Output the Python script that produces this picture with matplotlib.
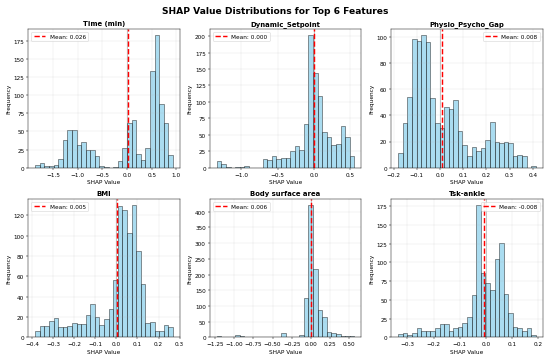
import numpy as np
import matplotlib
matplotlib.use("Agg")
from matplotlib import pyplot as plt

features = ["Time (min)", "Dynamic_Setpoint", "Physio_Psycho_Gap",
            "BMI", "Body surface area", "Tsk-ankle"]
means = [0.026, 0.000, 0.008, 0.005, 0.006, -0.008]
legend_loc = ["upper left", "upper left", "upper right",
              "upper left", "upper left", "upper right"]

# histogram range (min, max) and bin counts, 30 bins each
ranges = [(-1.86, 0.93), (-1.34, 0.556), (-0.18, 0.413),
          (-0.385, 0.268), (-1.23, 0.57), (-0.335, 0.19)]

counts_time = [4, 6, 2, 3, 4, 12, 38, 52, 52, 31, 36, 24, 24, 16, 3,
               1, 0, 1, 9, 27, 62, 66, 19, 11, 27, 133, 182, 88, 62, 18]
counts_setpoint = [10, 6, 1, 0, 1, 1, 2, 0, 0, 0, 13, 12, 18, 13, 14,
                   14, 26, 33, 27, 66, 201, 144, 109, 55, 47, 34, 36, 64, 47, 18]
counts_gap = [11, 34, 54, 98, 97, 101, 96, 53, 34, 30, 46, 45, 52, 28, 17,
              9, 16, 13, 15, 21, 35, 20, 19, 20, 19, 9, 10, 9, 0, 1]
counts_bmi = [6, 11, 11, 16, 19, 10, 10, 11, 14, 13, 13, 22, 33, 20, 12,
              18, 28, 57, 129, 125, 103, 130, 85, 53, 14, 15, 6, 6, 12, 10]
counts_bsa = [6, 3, 3, 3, 8, 5, 0, 0, 0, 0, 0, 0, 0, 0, 15,
              2, 0, 0, 8, 125, 420, 217, 88, 64, 17, 13, 11, 6, 5, 5]
counts_ankle = [5, 6, 3, 6, 12, 9, 8, 9, 12, 18, 18, 9, 13, 14, 19,
                27, 57, 176, 86, 72, 63, 104, 126, 58, 32, 14, 12, 9, 12, 3]

all_counts = [counts_time, counts_setpoint, counts_gap,
              counts_bmi, counts_bsa, counts_ankle]

fig, axes = plt.subplots(2, 3, figsize=(13.3, 8.73), dpi=41.35)
axes = axes.flatten()

for i, ax in enumerate(axes):
    lo, hi = ranges[i]
    edges = np.linspace(lo, hi, len(all_counts[i]) + 1)
    centers = (edges[:-1] + edges[1:]) / 2
    ax.hist(centers, bins=edges, weights=all_counts[i], alpha=0.7,
            color="skyblue", edgecolor="black", linewidth=1)
    ax.axvline(0, color="black", linestyle="-", alpha=0.3, linewidth=1.2)
    ax.axvline(means[i], color="red", linestyle="--", linewidth=2.5,
               label=f"Mean: {means[i]:.3f}")
    ax.set_title(features[i], fontsize=12, fontweight="bold")
    ax.set_xlabel("SHAP Value")
    ax.set_ylabel("Frequency")
    ax.legend(loc=legend_loc[i])
    ax.grid(True, alpha=0.3)

plt.suptitle("SHAP Value Distributions for Top 6 Features", fontsize=16, fontweight="bold")
plt.tight_layout()
plt.savefig("out.png", dpi=41.35)
